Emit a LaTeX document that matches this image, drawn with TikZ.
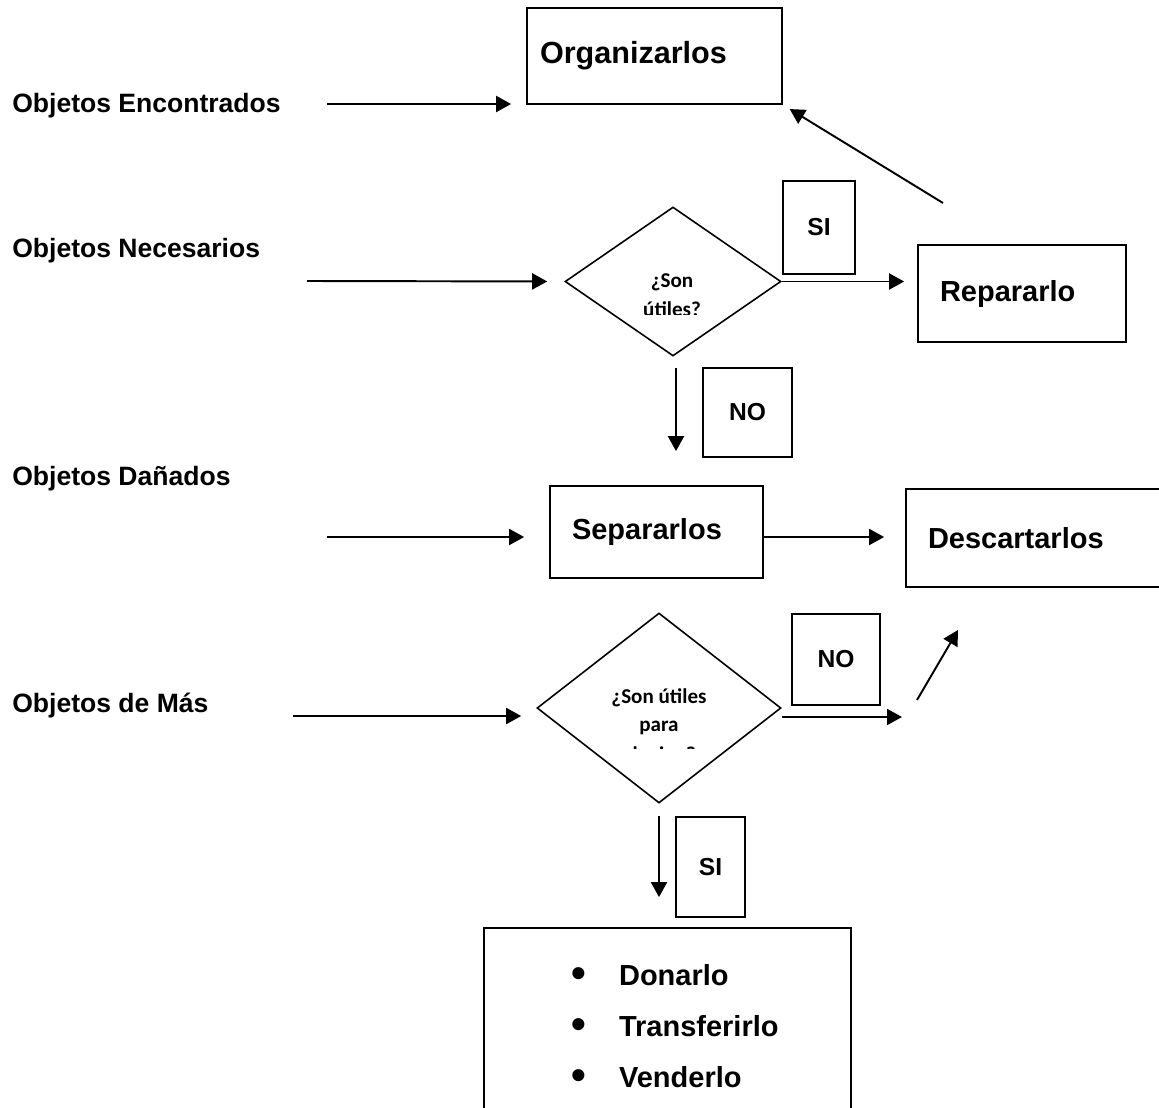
\documentclass[tikz,border=0pt]{standalone}
\usepackage{fontspec}
\setmainfont{Liberation Sans}
\newfontfamily\askfont{Carlito}
\usetikzlibrary{positioning,arrows.meta,shapes.geometric}

\newcommand{\itembullet}{\raisebox{-0.08em}{\scalebox{1.45}{\textbullet}}\hspace{0.66cm}}

\begin{document}
\begin{tikzpicture}[
  >={Triangle[length=3mm,width=3.2mm]},
  lbl/.style={anchor=base west,inner sep=0pt,font=\fontsize{15.1pt}{18pt}\selectfont\bfseries},
  box/.style={draw,line width=1pt,inner xsep=4.4mm,inner ysep=0pt,align=left,font=\fontsize{16.5pt}{20pt}\selectfont\bfseries},
  tag/.style={draw,line width=0.9pt,inner sep=0pt,font=\fontsize{14pt}{17pt}\selectfont\bfseries},
  ask/.style={draw,diamond,line width=0.9pt,inner sep=0pt},
  asktxt/.style={anchor=base,inner sep=0pt,font=\askfont\fontsize{12pt}{16pt}\selectfont\bfseries},
  ar/.style={->,line width=1.1pt}
]
\useasboundingbox (0,0) rectangle (23.18,-22.14);

% Input labels (left column)
\node[lbl] (lEnc) at (0.24,-2.24)  {Objetos Encontrados};
\node[lbl] (lNec) at (0.24,-5.14)  {Objetos Necesarios};
\node[lbl] (lDan) at (0.24,-9.70)  {Objetos Dañados};
\node[lbl] (lMas) at (0.24,-14.24) {Objetos de Más};

\coordinate (inEnc) at (6.54,-2.08);
\coordinate (inNec) at (6.14,-5.62);
\coordinate (inDan) at (6.54,-10.74);
\coordinate (inMas) at (5.86,-14.32);

% Action boxes
\node[box,text width=4.58cm,inner xsep=2.6mm,minimum height=1.92cm,font=\fontsize{17.4pt}{20pt}\selectfont\bfseries] (org) at (13.09,-1.12) {Organizarlos};
\node[box,text width=3.28cm,minimum height=1.94cm] (rep) at (20.44,-5.87)  {Repararlo};
\node[box,text width=3.38cm,minimum height=1.84cm] (sep) at (13.13,-10.64) {Separarlos};
\node[box,text width=4.40cm,minimum height=1.96cm] (des) at (20.76,-10.76) {Descartarlos};

% Questions
\node[ask,minimum width=4.32cm,minimum height=2.98cm] (d1) at (13.46,-5.63) {};
\node[ask,minimum width=4.88cm,minimum height=3.80cm] (d2) at (13.18,-14.16) {};

\begin{scope}
  \clip (11.5,-5.0) rectangle (15.5,-6.29);
  \node[asktxt] (q1a) at (13.44,-5.74) {¿Son};
  \node[asktxt] (q1b) at (13.44,-6.32) {útiles?};
\end{scope}
\begin{scope}
  \clip (11.0,-13.5) rectangle (15.5,-14.96);
  \node[asktxt] (q2a) at (13.18,-14.06) {¿Son útiles};
  \node[asktxt] (q2b) at (13.18,-14.62) {para};
  \node[asktxt] (q2c) at (13.18,-15.22) {alguien?};
\end{scope}

% Answer tags
\node[tag,minimum width=1.44cm,minimum height=1.86cm] (si1) at (16.38,-4.55)  {SI};
\node[tag,minimum width=1.78cm,minimum height=1.78cm] (no1) at (14.95,-8.25)  {NO};
\node[tag,minimum width=1.76cm,minimum height=1.82cm] (no2) at (16.72,-13.19) {NO};
\node[tag,minimum width=1.38cm,minimum height=2.00cm] (si2) at (14.21,-17.34) {SI};

% Final options
\node[draw,line width=1pt,minimum width=7.34cm,minimum height=4.04cm] (lst) at (13.35,-20.58) {};
\node[anchor=west,inner sep=0pt,align=left,font=\fontsize{16.5pt}{29.2pt}\selectfont\bfseries] (opts) at (11.42,-20.54)
  {\itembullet Donarlo\\ \itembullet Transferirlo\\ \itembullet Venderlo};

% Connectors
\draw[ar,shorten >=0.3cm]  (inEnc) -- (inEnc -| org.west);
\draw[ar,shorten >=0.34cm] (inNec) -- (d1.west);
\draw[ar,shorten >=0.5cm]  (inDan) -- (inDan -| sep.west);
\draw[ar,shorten >=0.3cm]  (inMas) -- (inMas -| d2.west);

\draw[ar,shorten >=0.26cm] (d1.east) -- (d1.east -| rep.west);
\draw[ar,shorten <=0.22cm,shorten >=0.68cm] ([xshift=0.06cm]d1.south) -- ([xshift=0.06cm]d1.south |- sep.north);
\draw[ar,shorten >=0.42cm] ([yshift=-0.1cm]sep.east) -- ([yshift=-0.1cm]sep.east -| des.west);

\coordinate (rTop) at (18.86,-4.06);
\draw[ar,shorten >=0.16cm] (rTop) -- (org.south east);

\coordinate (noEnd) at (18.04,-14.34);
\draw[ar] (d2.east |- noEnd) -- (noEnd);
\coordinate (upA) at (18.34,-14.00);
\coordinate (upB) at (19.16,-12.60);
\draw[ar] (upA) -- (upB);

\draw[ar,shorten <=0.24cm,shorten >=0.6cm] (d2.south) -- (d2.south |- lst.north);
\end{tikzpicture}
\end{document}
